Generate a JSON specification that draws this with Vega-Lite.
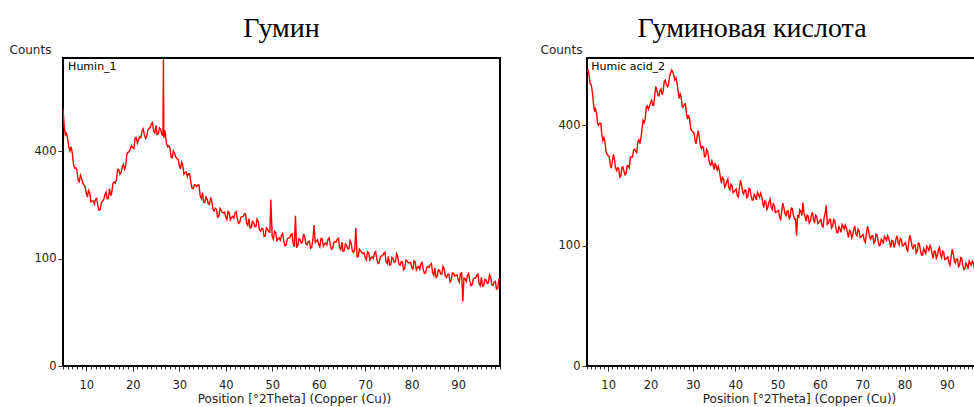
{
  "$schema": "https://vega.github.io/schema/vega-lite/v6.json",
  "background": "white",
  "padding": {"left": 8, "top": 14, "right": 0, "bottom": 0},
  "spacing": 37,
  "config": {
    "view": {"stroke": "black", "strokeWidth": 2},
    "axis": {"labelFont": "DejaVu Sans", "labelFontSize": 11.5, "labelColor": "#222", "titleFont": "DejaVu Sans", "titleFontSize": 12, "titleFontWeight": "normal", "titleColor": "#222", "tickColor": "#333", "grid": false, "domain": false},
    "title": {"font": "Liberation Serif", "fontSize": 28, "fontWeight": "normal", "color": "black", "frame": "group", "anchor": "middle"}
  },
  "datasets": {
    "humin": [
      {"x":5,"c":574},{"x":5.5,"c":462},{"x":6,"c":446},{"x":6.5,"c":401},{"x":7,"c":392},{"x":7.5,"c":339},{"x":8,"c":332},{"x":8.5,"c":294},{"x":9,"c":304},{"x":9.5,"c":283},
      {"x":10,"c":259},{"x":10.5,"c":267},{"x":11,"c":233},{"x":11.5,"c":236},{"x":12,"c":241},{"x":12.5,"c":222},{"x":13,"c":212},{"x":13.5,"c":236},{"x":14,"c":253},{"x":14.5,"c":242},
      {"x":15,"c":272},{"x":15.5,"c":261},{"x":16,"c":293},{"x":16.5,"c":300},{"x":17,"c":334},{"x":17.5,"c":324},{"x":18,"c":352},{"x":18.5,"c":349},{"x":19,"c":395},{"x":19.5,"c":409},
      {"x":20,"c":412},{"x":20.5,"c":449},{"x":21,"c":430},{"x":21.5,"c":455},{"x":22,"c":478},{"x":22.5,"c":463},{"x":23,"c":455},{"x":23.5,"c":489},{"x":24,"c":507},{"x":24.5,"c":477},
      {"x":25,"c":501},{"x":25.5,"c":467},{"x":26,"c":485},{"x":26.5,"c":461},{"x":26.6,"c":815},{"x":26.7,"c":450},{"x":27,"c":469},{"x":27.5,"c":416},{"x":28,"c":412},{"x":28.5,"c":375},{"x":29,"c":392},{"x":29.5,"c":372},
      {"x":30,"c":350},{"x":30.5,"c":360},{"x":31,"c":318},{"x":31.5,"c":326},{"x":32,"c":320},{"x":32.5,"c":292},{"x":33,"c":272},{"x":33.5,"c":284},{"x":34,"c":284},{"x":34.5,"c":251},
      {"x":35,"c":260},{"x":35.5,"c":231},{"x":36,"c":241},{"x":36.5,"c":226},{"x":37,"c":236},{"x":37.5,"c":208},{"x":38,"c":213},{"x":38.5,"c":193},{"x":39,"c":210},{"x":39.5,"c":203},
      {"x":40,"c":192},{"x":40.5,"c":207},{"x":41,"c":185},{"x":41.5,"c":194},{"x":42,"c":203},{"x":42.5,"c":187},{"x":43,"c":178},{"x":43.5,"c":193},{"x":44,"c":200},{"x":44.5,"c":176},
      {"x":45,"c":188},{"x":45.5,"c":166},{"x":46,"c":178},{"x":46.5,"c":168},{"x":47,"c":180},{"x":47.5,"c":157},{"x":48,"c":163},{"x":48.5,"c":146},{"x":49,"c":162},{"x":49.5,"c":155},{"x":49.7,"c":240},
      {"x":50,"c":145},{"x":50.5,"c":157},{"x":51,"c":136},{"x":51.5,"c":142},{"x":52,"c":148},{"x":52.5,"c":135},{"x":53,"c":127},{"x":53.5,"c":142},{"x":54,"c":149},{"x":54.5,"c":130},
      {"x":55,"c":195},{"x":55.5,"c":126},{"x":56,"c":138},{"x":56.5,"c":133},{"x":57,"c":144},{"x":57.5,"c":127},{"x":58,"c":135},{"x":58.5,"c":122},{"x":59,"c":172},{"x":59.5,"c":135},
      {"x":60,"c":128},{"x":60.5,"c":141},{"x":61,"c":124},{"x":61.5,"c":131},{"x":62,"c":139},{"x":62.5,"c":127},{"x":63,"c":120},{"x":63.5,"c":134},{"x":64,"c":139},{"x":64.5,"c":121},
      {"x":65,"c":133},{"x":65.5,"c":115},{"x":66,"c":126},{"x":66.5,"c":119},{"x":67,"c":130},{"x":67.5,"c":112},{"x":68,"c":165},{"x":68.5,"c":103},{"x":69,"c":115},{"x":69.5,"c":110},
      {"x":70,"c":102},{"x":70.5,"c":113},{"x":71,"c":97},{"x":71.5,"c":103},{"x":72,"c":110},{"x":72.5,"c":99},{"x":73,"c":92},{"x":73.5,"c":105},{"x":74,"c":110},{"x":74.5,"c":94},
      {"x":75,"c":104},{"x":75.5,"c":89},{"x":76,"c":100},{"x":76.5,"c":94},{"x":77,"c":104},{"x":77.5,"c":88},{"x":78,"c":94},{"x":78.5,"c":82},{"x":79,"c":96},{"x":79.5,"c":92},
      {"x":80,"c":85},{"x":80.5,"c":96},{"x":81,"c":80},{"x":81.5,"c":86},{"x":82,"c":91},{"x":82.5,"c":81},{"x":83,"c":75},{"x":83.5,"c":86},{"x":84,"c":89},{"x":84.5,"c":75},
      {"x":85,"c":83},{"x":85.5,"c":70},{"x":86,"c":79},{"x":86.5,"c":73},{"x":87,"c":82},{"x":87.5,"c":68},{"x":88,"c":73},{"x":88.5,"c":63},{"x":89,"c":74},{"x":89.5,"c":71},
      {"x":90,"c":65},{"x":90.5,"c":74},{"x":91,"c":36},{"x":91.5,"c":66},{"x":92,"c":71},{"x":92.5,"c":63},{"x":93,"c":57},{"x":93.5,"c":67},{"x":94,"c":71},{"x":94.5,"c":59},
      {"x":95,"c":68},{"x":95.5,"c":56},{"x":96,"c":64},{"x":96.5,"c":60},{"x":97,"c":68},{"x":97.5,"c":56},{"x":98,"c":62},{"x":98.5,"c":52},{"x":99,"c":64},
      {"x":5.25,"c":498},{"x":5.75,"c":469},{"x":6.25,"c":415},{"x":6.75,"c":416},{"x":7.25,"c":354},{"x":7.75,"c":340},{"x":8.25,"c":299},{"x":8.75,"c":315},{"x":9.25,"c":290},{"x":9.75,"c":279},
      {"x":10.25,"c":247},{"x":10.75,"c":259},{"x":11.25,"c":236},{"x":11.75,"c":227},{"x":12.25,"c":243},{"x":12.75,"c":210},{"x":13.25,"c":230},{"x":13.75,"c":239},{"x":14.25,"c":262},{"x":14.75,"c":243},
      {"x":15.25,"c":251},{"x":15.75,"c":289},{"x":16.25,"c":289},{"x":16.75,"c":335},{"x":17.25,"c":318},{"x":17.75,"c":344},{"x":18.25,"c":335},{"x":18.75,"c":389},{"x":19.25,"c":398},{"x":19.75,"c":420},
      {"x":20.25,"c":409},{"x":20.75,"c":452},{"x":21.25,"c":444},{"x":21.75,"c":451},{"x":22.25,"c":487},{"x":22.75,"c":448},{"x":23.25,"c":481},{"x":23.75,"c":491},{"x":24.25,"c":513},{"x":24.75,"c":470},
      {"x":25.25,"c":464},{"x":25.75,"c":491},{"x":26.25,"c":464},{"x":26.85,"c":481},{"x":27.25,"c":429},{"x":27.75,"c":420},{"x":28.25,"c":377},{"x":28.75,"c":401},{"x":29.25,"c":378},{"x":29.75,"c":371},
      {"x":30.25,"c":336},{"x":30.75,"c":350},{"x":31.25,"c":324},{"x":31.75,"c":310},{"x":32.25,"c":320},{"x":32.75,"c":274},{"x":33.25,"c":285},{"x":33.75,"c":279},{"x":34.25,"c":284},{"x":34.75,"c":242},
      {"x":35.25,"c":232},{"x":35.75,"c":247},{"x":36.25,"c":228},{"x":36.75,"c":246},{"x":37.25,"c":213},{"x":37.75,"c":215},{"x":38.25,"c":192},{"x":38.75,"c":215},{"x":39.25,"c":204},{"x":39.75,"c":205},
      {"x":40.25,"c":186},{"x":40.75,"c":204},{"x":41.25,"c":191},{"x":41.75,"c":189},{"x":42.25,"c":206},{"x":42.75,"c":176},{"x":43.25,"c":191},{"x":43.75,"c":193},{"x":44.25,"c":201},{"x":44.75,"c":171},
      {"x":45.25,"c":165},{"x":45.75,"c":181},{"x":46.25,"c":168},{"x":46.75,"c":187},{"x":47.25,"c":161},{"x":47.75,"c":164},{"x":48.25,"c":145},{"x":48.75,"c":165},{"x":49.25,"c":156},
      {"x":50.25,"c":139},{"x":50.75,"c":154},{"x":51.25,"c":140},{"x":51.75,"c":137},{"x":52.25,"c":152},{"x":52.75,"c":125},{"x":53.25,"c":140},{"x":53.75,"c":142},{"x":54.25,"c":151},{"x":54.75,"c":123},
      {"x":55.25,"c":121},{"x":55.75,"c":140},{"x":56.25,"c":131},{"x":56.75,"c":151},{"x":57.25,"c":129},{"x":57.75,"c":134},{"x":58.25,"c":120},{"x":58.75,"c":138},{"x":59.25,"c":132},{"x":59.75,"c":138},
      {"x":60.25,"c":123},{"x":60.75,"c":140},{"x":61.25,"c":129},{"x":61.75,"c":127},{"x":62.25,"c":142},{"x":62.75,"c":118},{"x":63.25,"c":132},{"x":63.75,"c":133},{"x":64.25,"c":141},{"x":64.75,"c":117},
      {"x":65.25,"c":114},{"x":65.75,"c":129},{"x":66.25,"c":119},{"x":66.75,"c":136},{"x":67.25,"c":114},{"x":67.75,"c":118},{"x":68.25,"c":103},{"x":68.75,"c":118},{"x":69.25,"c":111},{"x":69.75,"c":111},
      {"x":70.25,"c":98},{"x":70.75,"c":111},{"x":71.25,"c":101},{"x":71.75,"c":100},{"x":72.25,"c":113},{"x":72.75,"c":91},{"x":73.25,"c":103},{"x":73.75,"c":105},{"x":74.25,"c":112},{"x":74.75,"c":91},
      {"x":75.25,"c":88},{"x":75.75,"c":102},{"x":76.25,"c":93},{"x":76.75,"c":109},{"x":77.25,"c":90},{"x":77.75,"c":94},{"x":78.25,"c":80},{"x":78.75,"c":97},{"x":79.25,"c":92},{"x":79.75,"c":93},
      {"x":80.25,"c":80},{"x":80.75,"c":94},{"x":81.25,"c":84},{"x":81.75,"c":81},{"x":82.25,"c":93},{"x":82.75,"c":74},{"x":83.25,"c":84},{"x":83.75,"c":84},{"x":84.25,"c":91},{"x":84.75,"c":71},
      {"x":85.25,"c":68},{"x":85.75,"c":80},{"x":86.25,"c":73},{"x":86.75,"c":86},{"x":87.25,"c":70},{"x":87.75,"c":73},{"x":88.25,"c":61},{"x":88.75,"c":75},{"x":89.25,"c":70},{"x":89.75,"c":72},
      {"x":90.25,"c":61},{"x":90.75,"c":75},{"x":91.25,"c":67},{"x":91.75,"c":62},{"x":92.25,"c":74},{"x":92.75,"c":56},{"x":93.25,"c":65},{"x":93.75,"c":67},{"x":94.25,"c":73},{"x":94.75,"c":56},
      {"x":95.25,"c":55},{"x":95.75,"c":65},{"x":96.25,"c":59},{"x":96.75,"c":72},{"x":97.25,"c":57},{"x":97.75,"c":61},{"x":98.25,"c":51},{"x":98.75,"c":65}
    ],
    "humic": [
      {"x":5,"c":595},{"x":5.5,"c":580},{"x":6,"c":546},{"x":6.5,"c":481},{"x":7,"c":456},{"x":7.5,"c":405},{"x":8,"c":407},{"x":8.5,"c":368},{"x":9,"c":360},{"x":9.5,"c":316},
      {"x":10,"c":305},{"x":10.5,"c":278},{"x":11,"c":291},{"x":11.5,"c":293},{"x":12,"c":263},{"x":12.5,"c":269},{"x":13,"c":249},{"x":13.5,"c":273},{"x":14,"c":252},{"x":14.5,"c":277},
      {"x":15,"c":271},{"x":15.5,"c":301},{"x":16,"c":322},{"x":16.5,"c":318},{"x":17,"c":346},{"x":17.5,"c":341},{"x":18,"c":388},{"x":18.5,"c":408},{"x":19,"c":462},{"x":19.5,"c":454},
      {"x":20,"c":478},{"x":20.5,"c":469},{"x":21,"c":506},{"x":21.5,"c":525},{"x":22,"c":503},{"x":22.5,"c":529},{"x":23,"c":521},{"x":23.5,"c":564},{"x":24,"c":538},{"x":24.5,"c":577},
      {"x":25,"c":604},{"x":25.5,"c":582},{"x":26,"c":573},{"x":26.5,"c":523},{"x":27,"c":510},{"x":27.5,"c":462},{"x":28,"c":473},{"x":28.5,"c":436},{"x":29,"c":434},{"x":29.5,"c":388},
      {"x":30,"c":378},{"x":30.5,"c":351},{"x":31,"c":363},{"x":31.5,"c":362},{"x":32,"c":326},{"x":32.5,"c":328},{"x":33,"c":303},{"x":33.5,"c":318},{"x":34,"c":281},{"x":34.5,"c":290},
      {"x":35,"c":266},{"x":35.5,"c":275},{"x":36,"c":275},{"x":36.5,"c":246},{"x":37,"c":245},{"x":37.5,"c":220},{"x":38,"c":235},{"x":38.5,"c":219},{"x":39,"c":228},{"x":39.5,"c":207},
      {"x":40,"c":213},{"x":40.5,"c":200},{"x":41,"c":219},{"x":41.5,"c":226},{"x":42,"c":204},{"x":42.5,"c":213},{"x":43,"c":198},{"x":43.5,"c":215},{"x":44,"c":190},{"x":44.5,"c":203},
      {"x":45,"c":190},{"x":45.5,"c":203},{"x":46,"c":206},{"x":46.5,"c":185},{"x":47,"c":188},{"x":47.5,"c":169},{"x":48,"c":186},{"x":48.5,"c":174},{"x":49,"c":181},{"x":49.5,"c":162},
      {"x":50,"c":165},{"x":50.5,"c":152},{"x":51,"c":166},{"x":51.5,"c":173},{"x":52,"c":156},{"x":52.5,"c":166},{"x":53,"c":154},{"x":53.5,"c":171},{"x":54,"c":149},{"x":54.5,"c":117},
      {"x":55,"c":151},{"x":55.5,"c":165},{"x":56,"c":184},{"x":56.5,"c":154},{"x":57,"c":157},{"x":57.5,"c":141},{"x":58,"c":157},{"x":58.5,"c":147},{"x":59,"c":157},{"x":59.5,"c":140},
      {"x":60,"c":146},{"x":60.5,"c":136},{"x":61,"c":152},{"x":61.5,"c":178},{"x":62,"c":140},{"x":62.5,"c":148},{"x":63,"c":134},{"x":63.5,"c":146},{"x":64,"c":123},{"x":64.5,"c":134},
      {"x":65,"c":123},{"x":65.5,"c":134},{"x":66,"c":137},{"x":66.5,"c":123},{"x":67,"c":127},{"x":67.5,"c":113},{"x":68,"c":129},{"x":68.5,"c":120},{"x":69,"c":129},{"x":69.5,"c":114},
      {"x":70,"c":118},{"x":70.5,"c":108},{"x":71,"c":121},{"x":71.5,"c":126},{"x":72,"c":111},{"x":72.5,"c":117},{"x":73,"c":107},{"x":73.5,"c":119},{"x":74,"c":100},{"x":74.5,"c":111},
      {"x":75,"c":103},{"x":75.5,"c":113},{"x":76,"c":117},{"x":76.5,"c":105},{"x":77,"c":109},{"x":77.5,"c":97},{"x":78,"c":112},{"x":78.5,"c":104},{"x":79,"c":112},{"x":79.5,"c":99},
      {"x":80,"c":103},{"x":80.5,"c":94},{"x":81,"c":106},{"x":81.5,"c":110},{"x":82,"c":95},{"x":82.5,"c":101},{"x":83,"c":91},{"x":83.5,"c":103},{"x":84,"c":85},{"x":84.5,"c":95},
      {"x":85,"c":86},{"x":85.5,"c":96},{"x":86,"c":100},{"x":86.5,"c":87},{"x":87,"c":91},{"x":87.5,"c":80},{"x":88,"c":93},{"x":88.5,"c":85},{"x":89,"c":91},{"x":89.5,"c":78},
      {"x":90,"c":81},{"x":90.5,"c":73},{"x":91,"c":83},{"x":91.5,"c":87},{"x":92,"c":73},{"x":92.5,"c":79},{"x":93,"c":70},{"x":93.5,"c":80},{"x":94,"c":64},{"x":94.5,"c":73},
      {"x":95,"c":65},{"x":95.5,"c":73},{"x":96,"c":76},{"x":96.5,"c":66},{"x":97,"c":70},{"x":97.5,"c":60},{"x":98,"c":72},{"x":98.5,"c":65},{"x":99,"c":73},
      {"x":5.25,"c":607},{"x":5.75,"c":549},{"x":6.25,"c":519},{"x":6.75,"c":447},{"x":7.25,"c":441},{"x":7.75,"c":400},{"x":8.25,"c":406},{"x":8.75,"c":351},{"x":9.25,"c":345},{"x":9.75,"c":309},
      {"x":10.25,"c":302},{"x":10.75,"c":270},{"x":11.25,"c":309},{"x":11.75,"c":271},{"x":12.25,"c":271},{"x":12.75,"c":246},{"x":13.25,"c":272},{"x":13.75,"c":260},{"x":14.25,"c":257},{"x":14.75,"c":276},
      {"x":15.25,"c":300},{"x":15.75,"c":301},{"x":16.25,"c":324},{"x":16.75,"c":314},{"x":17.25,"c":353},{"x":17.75,"c":359},{"x":18.25,"c":416},{"x":18.75,"c":420},{"x":19.25,"c":467},{"x":19.75,"c":464},
      {"x":20.25,"c":487},{"x":20.75,"c":468},{"x":21.25,"c":539},{"x":21.75,"c":505},{"x":22.25,"c":523},{"x":22.75,"c":507},{"x":23.25,"c":559},{"x":23.75,"c":546},{"x":24.25,"c":546},{"x":24.75,"c":593},
      {"x":25.25,"c":596},{"x":25.75,"c":564},{"x":26.25,"c":553},{"x":26.75,"c":494},{"x":27.25,"c":497},{"x":27.75,"c":462},{"x":28.25,"c":474},{"x":28.75,"c":420},{"x":29.25,"c":419},{"x":29.75,"c":381},
      {"x":30.25,"c":376},{"x":30.75,"c":340},{"x":31.25,"c":382},{"x":31.75,"c":337},{"x":32.25,"c":332},{"x":32.75,"c":302},{"x":33.25,"c":323},{"x":33.75,"c":297},{"x":34.25,"c":278},{"x":34.75,"c":280},
      {"x":35.25,"c":284},{"x":35.75,"c":265},{"x":36.25,"c":264},{"x":36.75,"c":230},{"x":37.25,"c":241},{"x":37.75,"c":223},{"x":38.25,"c":241},{"x":38.75,"c":214},{"x":39.25,"c":224},{"x":39.75,"c":209},
      {"x":40.25,"c":216},{"x":40.75,"c":197},{"x":41.25,"c":238},{"x":41.75,"c":209},{"x":42.25,"c":213},{"x":42.75,"c":195},{"x":43.25,"c":217},{"x":43.75,"c":200},{"x":44.25,"c":190},{"x":44.75,"c":198},
      {"x":45.25,"c":208},{"x":45.75,"c":196},{"x":46.25,"c":199},{"x":46.75,"c":173},{"x":47.25,"c":186},{"x":47.75,"c":174},{"x":48.25,"c":192},{"x":48.75,"c":169},{"x":49.25,"c":177},{"x":49.75,"c":163},
      {"x":50.25,"c":167},{"x":50.75,"c":148},{"x":51.25,"c":183},{"x":51.75,"c":160},{"x":52.25,"c":165},{"x":52.75,"c":150},{"x":53.25,"c":172},{"x":53.75,"c":157},{"x":54.25,"c":149},{"x":54.75,"c":157},
      {"x":55.25,"c":168},{"x":55.75,"c":156},{"x":56.25,"c":161},{"x":56.75,"c":144},{"x":57.25,"c":155},{"x":57.75,"c":145},{"x":58.25,"c":163},{"x":58.75,"c":143},{"x":59.25,"c":154},{"x":59.75,"c":142},
      {"x":60.25,"c":148},{"x":60.75,"c":133},{"x":61.25,"c":161},{"x":61.75,"c":138},{"x":62.25,"c":148},{"x":62.75,"c":131},{"x":63.25,"c":148},{"x":63.75,"c":133},{"x":64.25,"c":123},{"x":64.75,"c":130},
      {"x":65.25,"c":138},{"x":65.75,"c":129},{"x":66.25,"c":132},{"x":66.75,"c":114},{"x":67.25,"c":125},{"x":67.75,"c":118},{"x":68.25,"c":135},{"x":68.75,"c":117},{"x":69.25,"c":126},{"x":69.75,"c":115},
      {"x":70.25,"c":119},{"x":70.75,"c":105},{"x":71.25,"c":135},{"x":71.75,"c":115},{"x":72.25,"c":117},{"x":72.75,"c":104},{"x":73.25,"c":120},{"x":73.75,"c":108},{"x":74.25,"c":101},{"x":74.75,"c":108},
      {"x":75.25,"c":116},{"x":75.75,"c":109},{"x":76.25,"c":113},{"x":76.75,"c":97},{"x":77.25,"c":108},{"x":77.75,"c":102},{"x":78.25,"c":117},{"x":78.75,"c":101},{"x":79.25,"c":110},{"x":79.75,"c":100},
      {"x":80.25,"c":105},{"x":80.75,"c":91},{"x":81.25,"c":118},{"x":81.75,"c":99},{"x":82.25,"c":101},{"x":82.75,"c":88},{"x":83.25,"c":104},{"x":83.75,"c":92},{"x":84.25,"c":85},{"x":84.75,"c":92},
      {"x":85.25,"c":99},{"x":85.75,"c":92},{"x":86.25,"c":96},{"x":86.75,"c":80},{"x":87.25,"c":91},{"x":87.75,"c":84},{"x":88.25,"c":97},{"x":88.75,"c":81},{"x":89.25,"c":89},{"x":89.75,"c":79},
      {"x":90.25,"c":82},{"x":90.75,"c":70},{"x":91.25,"c":94},{"x":91.75,"c":76},{"x":92.25,"c":79},{"x":92.75,"c":68},{"x":93.25,"c":81},{"x":93.75,"c":70},{"x":94.25,"c":65},{"x":94.75,"c":70},
      {"x":95.25,"c":76},{"x":95.75,"c":70},{"x":96.25,"c":73},{"x":96.75,"c":60},{"x":97.25,"c":69},{"x":97.75,"c":64},{"x":98.25,"c":76},{"x":98.75,"c":63}
    ]
  },
  "hconcat": [
    {
      "width": 437,
      "height": 308,
      "title": {"text": "Гумин", "offset": 0},
      "resolve": {"axis": {"x": "independent"}},
      "layer": [
        {
          "data": {"name": "humin"},
          "mark": {"type": "line", "color": "#ff0000", "strokeWidth": 1.4, "clip": true},
          "encoding": {
            "x": {"field": "x", "type": "quantitative", "sort": "ascending", "scale": {"domain": [5, 99], "nice": false, "zero": false},
              "axis": {"orient": "bottom", "values": [10,20,30,40,50,60,70,80,90], "labelFlush": false, "labelPadding": 8, "tickSize": 5,
                "title": "Position [°2Theta] (Copper (Cu))", "titlePadding": 3, "titleX": 231}},
            "y": {"field": "c", "type": "quantitative", "scale": {"type": "sqrt", "domain": [0, 821], "nice": false},
              "axis": {"values": [0, 100, 400], "tickSize": 5, "labelPadding": 2, "title": "Counts", "titleAngle": 0, "titleAlign": "left", "titleBaseline": "alphabetic", "titleX": -54, "titleY": -5}}
          }
        },
        {
          "data": {"values": [{"label": "Humin_1"}]},
          "mark": {"type": "text", "align": "left", "baseline": "middle", "font": "DejaVu Sans", "fontSize": 11, "color": "black"},
          "encoding": {
            "x": {"datum": 6.1, "type": "quantitative", "axis": {"orient": "bottom", "values": [5,6,7,8,9,11,12,13,14,15,16,17,18,19,21,22,23,24,25,26,27,28,29,31,32,33,34,35,36,37,38,39,41,42,43,44,45,46,47,48,49,51,52,53,54,55,56,57,58,59,61,62,63,64,65,66,67,68,69,71,72,73,74,75,76,77,78,79,81,82,83,84,85,86,87,88,89,91,92,93,94,95,96,97,98,99], "labels": false, "tickSize": 3, "title": null}},
            "y": {"datum": 773},
            "text": {"field": "label"}
          }
        }
      ]
    },
    {
      "width": 398,
      "height": 308,
      "title": {"text": "Гуминовая кислота", "offset": 0, "dx": -34},
      "resolve": {"axis": {"x": "independent"}},
      "layer": [
        {
          "data": {"name": "humic"},
          "mark": {"type": "line", "color": "#ff0000", "strokeWidth": 1.4, "clip": true},
          "encoding": {
            "x": {"field": "x", "type": "quantitative", "sort": "ascending", "scale": {"domain": [5, 99], "nice": false, "zero": false},
              "axis": {"orient": "bottom", "values": [10,20,30,40,50,60,70,80,90], "labelFlush": false, "labelPadding": 8, "tickSize": 5,
                "title": "Position [°2Theta] (Copper (Cu))", "titlePadding": 3, "titleX": 212}},
            "y": {"field": "c", "type": "quantitative", "scale": {"type": "sqrt", "domain": [0, 654], "nice": false},
              "axis": {"values": [0, 100, 400], "tickSize": 5, "labelPadding": 2, "title": "Counts", "titleAngle": 0, "titleAlign": "left", "titleBaseline": "alphabetic", "titleX": -47, "titleY": -5}}
          }
        },
        {
          "data": {"values": [{"label": "Humic acid_2"}]},
          "mark": {"type": "text", "align": "left", "baseline": "middle", "font": "DejaVu Sans", "fontSize": 11, "color": "black"},
          "encoding": {
            "x": {"datum": 6, "type": "quantitative", "axis": {"orient": "bottom", "values": [5,6,7,8,9,11,12,13,14,15,16,17,18,19,21,22,23,24,25,26,27,28,29,31,32,33,34,35,36,37,38,39,41,42,43,44,45,46,47,48,49,51,52,53,54,55,56,57,58,59,61,62,63,64,65,66,67,68,69,71,72,73,74,75,76,77,78,79,81,82,83,84,85,86,87,88,89,91,92,93,94,95,96,97,98,99], "labels": false, "tickSize": 3, "title": null}},
            "y": {"datum": 617},
            "text": {"field": "label"}
          }
        }
      ]
    }
  ]
}
